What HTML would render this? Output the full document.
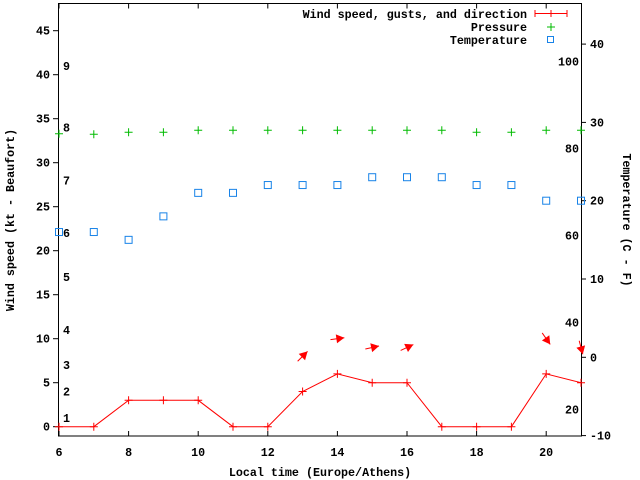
<!DOCTYPE html>
<html><head><meta charset="utf-8"><style>
html,body{margin:0;padding:0;background:#fff;}
svg{display:block;}
text{font-family:"Liberation Mono",monospace;font-weight:bold;font-size:11.7px;fill:#000;}
</style></head><body>
<svg id="chart" width="640" height="480" viewBox="0 0 640 480">
<rect x="58.5" y="3.5" width="523" height="432.5" fill="none" stroke="#000" stroke-width="1"/>
<g id="axes"></g>
<g id="marks"></g>
<text x="14" y="220" transform="rotate(-90 14 220)" text-anchor="middle">Wind speed (kt - Beaufort)</text>
<text x="623" y="220" transform="rotate(90 623 220)" text-anchor="middle">Temperature (C - F)</text>
<text x="320" y="476" text-anchor="middle">Local time (Europe/Athens)</text>
<g>
<text x="527" y="18" text-anchor="end">Wind speed, gusts, and direction</text>
<line x1="535" y1="13.5" x2="567" y2="13.5" stroke="#f00"/>
<line x1="535" y1="10" x2="535" y2="17" stroke="#f00"/><line x1="567" y1="10" x2="567" y2="17" stroke="#f00"/><line x1="551" y1="10" x2="551" y2="17" stroke="#f00"/>
<text x="527" y="31" text-anchor="end">Pressure</text>
<path d="M547 27h8M551 23v8" stroke="#0b0"/>
<text x="527" y="44" text-anchor="end">Temperature</text>
<rect x="547.5" y="36.5" width="6" height="6" fill="none" stroke="#1883e8"/>
</g>
</svg>
<script>
const hours=[6,7,8,9,10,11,12,13,14,15,16,17,18,19,20,21];
const windSpeed=[0,0,3,3,3,0,0,4,6,5,5,0,0,0,6,5];
const gusts=[null,null,null,null,null,null,null,8,10,9,9,null,null,null,10,9];
const windDir=[null,null,null,null,null,null,null,225,262,258,245,null,null,null,325,345];
const pressure=[1012.3,1012,1013,1013,1014,1014,1014,1014,1014,1014,1014,1014,1013,1013,1014,1014];
const temperature=[16,16,15,18,21,21,22,22,22,23,23,23,22,22,20,20];
const xTicks=[6,8,10,12,14,16,18,20];
const yTicks=[0,5,10,15,20,25,30,35,40,45];
const tempTicks=[-10,0,10,20,30,40];
const fTicks=[20,40,60,80,100];
const beaufortLabels=[1,2,3,4,5,6,7,8,9];
const beaufortKt=[1,4,7,11,17,22,28,34,41];

const NS='http://www.w3.org/2000/svg';
const X=h=>59+(h-6)*34.8;
const Y=kt=>426.7-kt*8.8;
const TY=c=>357.3-c*7.83;
const PY=p=>130.3+(1014-p)*2;
const axes=document.getElementById('axes'),marks=document.getElementById('marks');
function mk(tag,attrs,parent){const e=document.createElementNS(NS,tag);for(const k in attrs)e.setAttribute(k,attrs[k]);parent.appendChild(e);return e;}
function txt(x,y,s,anchor,parent){const t=mk('text',{x:x,y:y,'text-anchor':anchor},parent);t.textContent=s;return t;}

xTicks.forEach(h=>{
 const l=mk('path',{d:`M${X(h)} 436v-5M${X(h)} 3.5v5`,stroke:'#000'},axes);
 
 
 const t=txt(X(h),456,String(h),'middle',axes);
 
 
});
yTicks.forEach(v=>{
 const l=mk('path',{d:`M53 ${Y(v)}h5`,stroke:'#000'},axes);
 
 
 const t=txt(50,Y(v)+4,String(v),'end',axes);
 
 
});
tempTicks.forEach(v=>{
 const l=mk('path',{d:`M581 ${TY(v)}h5`,stroke:'#000'},axes);
 
 
 const t=txt(590,TY(v)+4,String(v),'start',axes);
 
 
});
fTicks.forEach(f=>{
 const t=txt(579,TY((f-32)*5/9)+4,String(f),'end',axes);
 
 
});
beaufortLabels.forEach((b,i)=>{
 const t=txt(63,Y(beaufortKt[i])+4,String(b),'start',axes);
 
 
});

hours.forEach((h,i)=>{
 const p=mk('path',{d:`M${X(h)-4} ${PY(pressure[i])}h8M${X(h)} ${PY(pressure[i])-4}v8`,stroke:'#0b0'},marks);
 
 
});
hours.forEach((h,i)=>{
 const r=mk('rect',{x:X(h)-3.5,y:TY(temperature[i])-3.5,width:7,height:7,fill:'none',stroke:'#1883e8'},marks);
 
 
});
const line=mk('polyline',{points:hours.map((h,i)=>X(h)+','+Y(windSpeed[i])).join(' '),fill:'none',stroke:'#f00'},marks);


hours.forEach((h,i)=>{
 const p=mk('path',{d:`M${X(h)-4} ${Y(windSpeed[i])}h8M${X(h)} ${Y(windSpeed[i])-4}v8`,stroke:'#f00'},marks);
 
 
});
hours.forEach((h,i)=>{
 if(windDir[i]==null)return;
 const b=(windDir[i]+180)*Math.PI/180;
 const dx=Math.sin(b),dy=-Math.cos(b);
 const cx=X(h),cy=Y(gusts[i]);
 const tx=cx+dx*7,ty=cy+dy*7,sx=cx-dx*7,sy=cy-dy*7;
 const px=-dy,py=dx;
 const g=mk('g',{},marks);
 
 
 mk('line',{x1:sx,y1:sy,x2:tx,y2:ty,stroke:'#f00'},g);
 mk('polygon',{points:`${tx},${ty} ${tx-dx*8+px*4.5},${ty-dy*8+py*4.5} ${tx-dx*8-px*4.5},${ty-dy*8-py*4.5}`,fill:'#f00'},g);
});
</script>
</body></html>
